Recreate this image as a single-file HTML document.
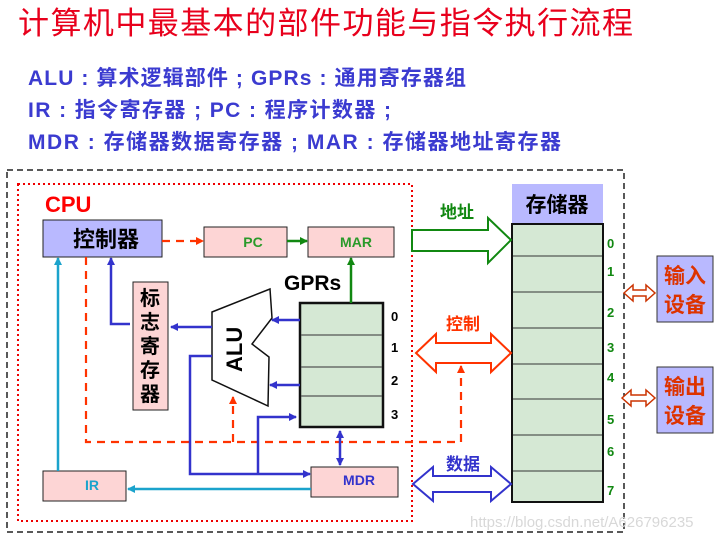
<!DOCTYPE html>
<html><head><meta charset="utf-8"><style>
body{margin:0;background:#fff;}
svg{display:block;font-family:"Liberation Sans","Noto Sans CJK SC",sans-serif;}
</style></head><body>
<svg width="716" height="538" viewBox="0 0 716 538" xmlns="http://www.w3.org/2000/svg">
<defs>
<marker id="ab" markerWidth="8" markerHeight="8" refX="7" refY="4" orient="auto" markerUnits="userSpaceOnUse"><path d="M0,0L8,4L0,8z" fill="#3333cc"/></marker>
<marker id="abs" markerWidth="8" markerHeight="8" refX="1" refY="4" orient="auto" markerUnits="userSpaceOnUse"><path d="M8,0L0,4L8,8z" fill="#3333cc"/></marker>
<marker id="ac" markerWidth="8" markerHeight="8" refX="7" refY="4" orient="auto" markerUnits="userSpaceOnUse"><path d="M0,0L8,4L0,8z" fill="#1ba3cc"/></marker>
<marker id="ar" markerWidth="8" markerHeight="8" refX="7" refY="4" orient="auto" markerUnits="userSpaceOnUse"><path d="M0,0L8,4L0,8z" fill="#ff3300"/></marker>
<marker id="ag" markerWidth="8" markerHeight="8" refX="7" refY="4" orient="auto" markerUnits="userSpaceOnUse"><path d="M0,0L8,4L0,8z" fill="#118811"/></marker>
</defs>
<text x="18" y="34" font-size="31" fill="#e8001c" textLength="615" lengthAdjust="spacing">计算机中最基本的部件功能与指令执行流程</text>
<g font-size="21" font-weight="bold" fill="#3b3bd0">
<text x="28" y="85" textLength="438" lengthAdjust="spacing">ALU : 算术逻辑部件 ; GPRs : 通用寄存器组</text>
<text x="28" y="117" textLength="363" lengthAdjust="spacing">IR : 指令寄存器 ;  PC : 程序计数器 ;</text>
<text x="28" y="149" textLength="533" lengthAdjust="spacing">MDR : 存储器数据寄存器 ; MAR : 存储器地址寄存器</text>
</g>
<rect x="7" y="170" width="617" height="362" fill="none" stroke="#222" stroke-width="1.5" stroke-dasharray="6,4"/>
<rect x="18" y="184" width="394" height="337" fill="none" stroke="#e00" stroke-width="2" stroke-dasharray="2,3"/>
<text x="45" y="212" font-size="22" font-weight="bold" fill="#ff0000">CPU</text>
<rect x="43" y="220" width="119" height="37" fill="#b9b9ff" stroke="#222" stroke-width="1"/>
<text x="73" y="247" font-size="22" font-weight="bold" fill="#000">控制器</text>
<rect x="204" y="227" width="83" height="30" fill="#fdd5d5" stroke="#222"/>
<text x="253" y="247" font-size="14" font-weight="bold" fill="#2a9a2a" text-anchor="middle">PC</text>
<rect x="308" y="227" width="86" height="30" fill="#fdd5d5" stroke="#222"/>
<text x="356" y="247" font-size="14" font-weight="bold" fill="#2a9a2a" text-anchor="middle">MAR</text>
<text x="284" y="290" font-size="21" font-weight="bold" fill="#000">GPRs</text>
<rect x="300" y="303" width="83" height="124" fill="#d5e8d4" stroke="#111" stroke-width="2.5"/>
<g stroke="#555" stroke-width="1.2"><line x1="301" y1="335" x2="382" y2="335"/><line x1="301" y1="367" x2="382" y2="367"/><line x1="301" y1="396" x2="382" y2="396"/></g>
<g font-size="13" font-weight="bold" fill="#000"><text x="391" y="321">0</text><text x="391" y="352">1</text><text x="391" y="385">2</text><text x="391" y="419">3</text></g>
<path d="M212,312L270,289L272,318L252,344L269,357L268,406L212,380Z" fill="#fff" stroke="#111" stroke-width="1.5"/>
<text transform="translate(242,372) rotate(-90)" font-size="22" font-weight="bold" fill="#000">ALU</text>
<rect x="133" y="282" width="35" height="128" fill="#fdd5d5" stroke="#222"/>
<g font-size="20" font-weight="bold" fill="#000" text-anchor="middle"><text x="150" y="305">标</text><text x="150" y="329">志</text><text x="150" y="353">寄</text><text x="150" y="377">存</text><text x="150" y="401">器</text></g>
<rect x="43" y="471" width="83" height="30" fill="#fdd5d5" stroke="#222"/>
<text x="92" y="490" font-size="14" font-weight="bold" fill="#1ba3cc" text-anchor="middle">IR</text>
<rect x="311" y="467" width="87" height="30" fill="#fdd5d5" stroke="#222"/>
<text x="359" y="485" font-size="14" font-weight="bold" fill="#3333cc" text-anchor="middle">MDR</text>
<g fill="none" stroke="#ff3300" stroke-width="2.2" stroke-dasharray="8,6">
<line x1="162" y1="241" x2="203" y2="241" marker-end="url(#ar)"/>
<polyline points="86,257 86,442 461,442 461,366" marker-end="url(#ar)"/>
<line x1="233" y1="442" x2="233" y2="397" marker-end="url(#ar)"/>
</g>
<g fill="none" stroke="#118811" stroke-width="2.5">
<line x1="287" y1="241" x2="307" y2="241" marker-end="url(#ag)"/>
<line x1="351" y1="303" x2="351" y2="258" marker-end="url(#ag)"/>
</g>
<g fill="none" stroke="#3333cc" stroke-width="2.5">
<polyline points="130,324 111,324 111,258" marker-end="url(#ab)"/>
<line x1="212" y1="327" x2="171" y2="327" marker-end="url(#ab)"/>
<line x1="300" y1="320" x2="272" y2="320" marker-end="url(#ab)"/>
<line x1="300" y1="385" x2="270" y2="385" marker-end="url(#ab)"/>
<polyline points="212,356 190,356 190,474 310,474" marker-end="url(#ab)"/>
<polyline points="258,474 258,417 296,417" marker-end="url(#ab)"/>
<line x1="340" y1="431" x2="340" y2="465" marker-start="url(#abs)" marker-end="url(#ab)"/>
</g>
<g fill="none" stroke="#1ba3cc" stroke-width="2.5">
<line x1="58" y1="471" x2="58" y2="258" marker-end="url(#ac)"/>
<line x1="311" y1="489" x2="128" y2="489" marker-end="url(#ac)"/>
</g>
<rect x="512" y="184" width="91" height="39" fill="#b9b9ff"/>
<text x="557" y="212" font-size="21" font-weight="bold" fill="#000" text-anchor="middle">存储器</text>
<rect x="512" y="224" width="91" height="278" fill="#d5e8d4" stroke="#111" stroke-width="2"/>
<g stroke="#333" stroke-width="1"><line x1="513" y1="256" x2="602" y2="256"/><line x1="513" y1="292" x2="602" y2="292"/><line x1="513" y1="328" x2="602" y2="328"/><line x1="513" y1="364" x2="602" y2="364"/><line x1="513" y1="399" x2="602" y2="399"/><line x1="513" y1="435" x2="602" y2="435"/><line x1="513" y1="471" x2="602" y2="471"/></g>
<g font-size="13" font-weight="bold" fill="#118811"><text x="607" y="248">0</text><text x="607" y="276">1</text><text x="607" y="317">2</text><text x="607" y="352">3</text><text x="607" y="382">4</text><text x="607" y="424">5</text><text x="607" y="456">6</text><text x="607" y="495">7</text></g>
<text x="440" y="218" font-size="17" font-weight="bold" fill="#118811">地址</text>
<path d="M412,230L488,230L488,218L511,240L488,263L488,251L412,251Z" fill="#fff" stroke="#118811" stroke-width="2"/>
<text x="446" y="330" font-size="17" font-weight="bold" fill="#ff3300">控制</text>
<path d="M416,353L436,334L436,343L491,343L491,334L511,353L491,372L491,363L436,363L436,372Z" fill="#fff" stroke="#ff3300" stroke-width="2"/>
<text x="446" y="470" font-size="17" font-weight="bold" fill="#3333cc">数据</text>
<path d="M413,484L433,467L433,476L491,476L491,467L511,484L491,501L491,492L433,492L433,501Z" fill="#fff" stroke="#3333cc" stroke-width="2"/>
<path d="M624,293L633,285L633,290L646,290L646,285L655,293L646,301L646,296L633,296L633,301Z" fill="#fff" stroke="#cc3300" stroke-width="1.5"/>
<path d="M622,398L631,390L631,395L646,395L646,390L655,398L646,406L646,401L631,401L631,406Z" fill="#fff" stroke="#cc3300" stroke-width="1.5"/>
<rect x="657" y="256" width="56" height="66" fill="#b9b9ff" stroke="#333"/>
<text x="685" y="283" font-size="21" font-weight="bold" fill="#dd3300" text-anchor="middle">输入</text>
<text x="685" y="312" font-size="21" font-weight="bold" fill="#dd3300" text-anchor="middle">设备</text>
<rect x="657" y="367" width="56" height="66" fill="#b9b9ff" stroke="#333"/>
<text x="685" y="394" font-size="21" font-weight="bold" fill="#dd3300" text-anchor="middle">输出</text>
<text x="685" y="423" font-size="21" font-weight="bold" fill="#dd3300" text-anchor="middle">设备</text>
<text x="470" y="527" font-size="15" fill="#d8d8d8">https://blog.csdn.net/A626796235</text>
</svg>
</body></html>
